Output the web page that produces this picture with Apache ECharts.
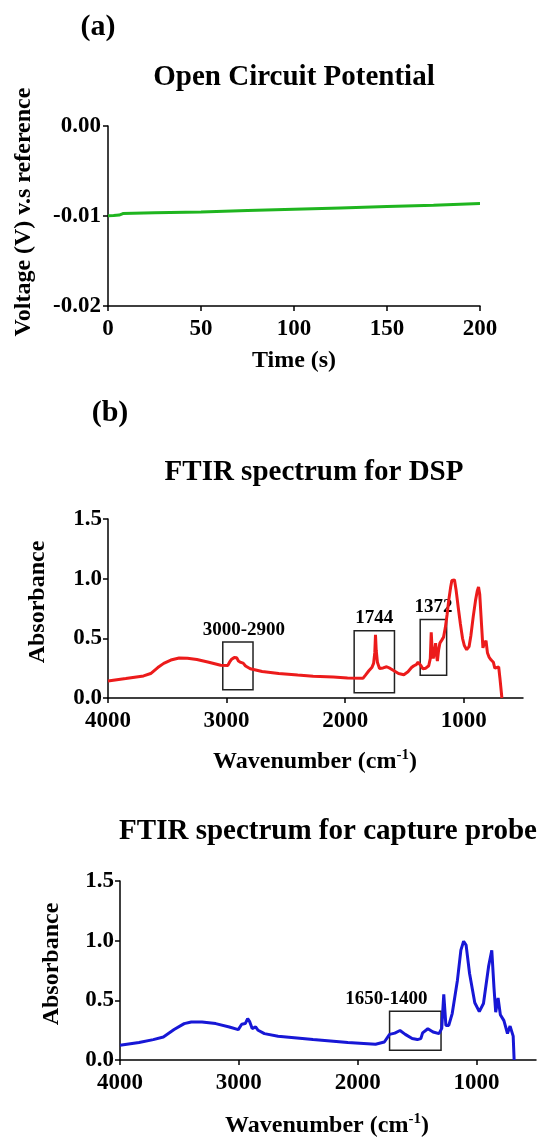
<!DOCTYPE html>
<html>
<head>
<meta charset="utf-8">
<script src="https://cdn.jsdelivr.net/npm/echarts@6/dist/echarts.min.js"></script>
<style>
html, body { margin: 0; padding: 0; background: #fff; }
#main { width: 545px; height: 1139px; }
</style>
</head>
<body>
<div id="main"></div>
<script>
// (a) open circuit potential
var ocpTime = [0, 3, 6, 8, 25, 50, 75, 100, 125, 150, 175, 200];
var ocpVoltage = [-0.00997, -0.00995, -0.0099, -0.00973, -0.00965, -0.00955, -0.0094, -0.00925, -0.0091, -0.00895, -0.0088, -0.00862];
var ocpTicks = [0, 50, 100, 150, 200];

// (b) FTIR spectrum for DSP
var dspWavenumber = [
    4000, 3850, 3700, 3640, 3580, 3530, 3470, 3400, 3330, 3250,
    3150, 3050, 2990, 2975, 2960, 2945, 2935, 2925, 2915, 2900,
    2880, 2860, 2840, 2800, 2700, 2560, 2400, 2270, 2100, 1980,
    1850, 1830, 1800, 1775, 1760, 1750, 1744, 1738, 1728, 1710,
    1680, 1650, 1620, 1595, 1550, 1505, 1470, 1440, 1420, 1400,
    1385, 1372, 1360, 1345, 1320, 1295, 1282, 1274, 1266, 1257,
    1245, 1237, 1228, 1222, 1212, 1201, 1185, 1170, 1155, 1140,
    1126, 1110, 1100, 1090, 1078, 1065, 1045, 1028, 1010, 995,
    975, 955, 940, 920, 900, 885, 875, 865, 850, 838,
    825, 812, 800, 785, 770, 750, 738, 725, 705, 695, 678
];
var dspAbsorbance = [
    0.143, 0.163, 0.185, 0.205, 0.255, 0.29, 0.318, 0.335, 0.333, 0.322,
    0.300, 0.275, 0.272, 0.300, 0.322, 0.330, 0.340, 0.352, 0.338, 0.310,
    0.298, 0.292, 0.268, 0.245, 0.222, 0.205, 0.192, 0.182, 0.175, 0.168,
    0.165, 0.190, 0.228, 0.255, 0.290, 0.380, 0.530, 0.400, 0.300, 0.248,
    0.252, 0.262, 0.248, 0.232, 0.205, 0.195, 0.220, 0.255, 0.270, 0.280,
    0.300, 0.310, 0.270, 0.245, 0.250, 0.270, 0.330, 0.550, 0.400, 0.330,
    0.400, 0.460, 0.350, 0.310, 0.400, 0.460, 0.485, 0.510, 0.590, 0.700,
    0.820, 0.930, 0.985, 1.000, 0.990, 0.910, 0.750, 0.620, 0.500, 0.440,
    0.405, 0.430, 0.520, 0.680, 0.820, 0.900, 0.930, 0.870, 0.620, 0.420,
    0.460, 0.480, 0.380, 0.340, 0.320, 0.300, 0.250, 0.260, 0.260, 0.170, 0.000
];

// FTIR spectrum for capture probe
var probeWavenumber = [
    4000, 3840, 3720, 3635, 3545, 3460, 3400, 3310, 3195, 3080,
    3005, 2990, 2976, 2946, 2926, 2908, 2888, 2859, 2838, 2785,
    2670, 2376, 2083, 1850, 1776, 1732, 1688, 1644, 1600, 1542,
    1498, 1469, 1454, 1410, 1366, 1316, 1293, 1276, 1258, 1234,
    1205, 1161, 1132, 1109, 1088, 1059, 1015, 977, 942, 898,
    872, 854, 839, 819, 800, 770, 740, 718, 702, 692, 684
];
var probeAbsorbance = [
    0.123, 0.146, 0.171, 0.193, 0.255, 0.305, 0.319, 0.319, 0.305, 0.277,
    0.255, 0.262, 0.300, 0.305, 0.347, 0.319, 0.263, 0.277, 0.249, 0.221,
    0.199, 0.171, 0.146, 0.132, 0.151, 0.215, 0.225, 0.247, 0.215, 0.180,
    0.171, 0.179, 0.227, 0.262, 0.235, 0.221, 0.265, 0.550, 0.290, 0.290,
    0.389, 0.669, 0.921, 0.995, 0.963, 0.725, 0.480, 0.405, 0.473, 0.790,
    0.920, 0.613, 0.400, 0.520, 0.380, 0.330, 0.222, 0.284, 0.271, 0.200, 0.000
];

var ftirTicks = [1000, 2000, 3000, 4000];

// boxes [label, x1, x2, y1, y2, label offset]
var dspBoxes = [
    ['3000-2900', 3032, 2777, 0.07, 0.47, 6],
    ['1744', 1924, 1584, 0.045, 0.563, 0],
    ['1372', 1367, 1144, 0.19, 0.658, 0]
];
var probeBoxes = [
    ['1650-1400', 1732, 1299, 0.081, 0.409, -29]
];

function zip(xs, ys) {
    var out = [];
    for (var i = 0; i < xs.length; i++) out.push([xs[i], ys[i]]);
    return out;
}

function boxData(boxes) {
    return boxes.map(function (b) {
        return [
            { name: b[0], coord: [b[1], b[4]], label: { offset: [b[5], 0] } },
            { coord: [b[2], b[3]] }
        ];
    });
}

var FONT = '"Liberation Serif", "Times New Roman", serif';

function axisCommon() {
    return {
        axisLine: { show: true, onZero: false, lineStyle: { color: '#000', width: 1.5 } },
        axisTick: { show: true, length: 5, lineStyle: { color: '#000', width: 1.5 } },
        splitLine: { show: false },
        axisLabel: { fontFamily: FONT, fontWeight: 'bold', fontSize: 23, color: '#000' }
    };
}

function txt(text, x, y, size, rotate) {
    return {
        type: 'text', x: x, y: y, rotation: rotate ? Math.PI / 2 : 0,
        style: {
            text: text, fontFamily: FONT, fontWeight: 'bold', fontSize: size, fill: '#000',
            align: 'center', verticalAlign: 'middle', textAlign: 'center', textVerticalAlign: 'middle'
        }
    };
}

function waveLabel(x, y) {
    return {
        type: 'text', x: x, y: y,
        style: {
            text: '{m|Wavenumber (cm}{s|-1}{m|)}',
            align: 'center', verticalAlign: 'middle', textAlign: 'center', textVerticalAlign: 'middle',
            rich: {
                m: { fontFamily: FONT, fontWeight: 'bold', fontSize: 24, fill: '#000', color: '#000', lineHeight: 28 },
                s: { fontFamily: FONT, fontWeight: 'bold', fontSize: 15, fill: '#000', color: '#000', verticalAlign: 'top', lineHeight: 16 }
            }
        }
    };
}

var myChart = echarts.init(document.getElementById('main'));

var xa = axisCommon();
xa.gridIndex = 0; xa.type = 'value'; xa.min = 0; xa.max = 200; xa.interval = 50;
xa.axisLabel.margin = 12;
xa.axisLabel.customValues = ocpTicks;
xa.axisTick.customValues = ocpTicks;

var ya = axisCommon();
ya.gridIndex = 0; ya.type = 'value'; ya.min = -0.02; ya.max = 0; ya.interval = 0.01;
ya.axisLabel.margin = 7;
ya.axisLabel.formatter = function (v) { return Math.abs(v) < 1e-9 ? '0.00' : v.toFixed(2); };

function ftirX(idx) {
    var a = axisCommon();
    a.gridIndex = idx; a.type = 'value'; a.min = 500; a.max = 4000; a.inverse = true;
    a.axisLabel.margin = 12;
    a.axisLabel.customValues = ftirTicks;
    a.axisLabel.formatter = function (v) { return String(v); };
    a.axisTick.customValues = ftirTicks;
    return a;
}
function ftirY(idx) {
    var a = axisCommon();
    a.gridIndex = idx; a.type = 'value'; a.min = 0; a.max = 1.5; a.interval = 0.5;
    a.axisLabel.margin = 6;
    a.axisLabel.formatter = function (v) { return v.toFixed(1); };
    return a;
}

var boxStyle = {
    silent: true,
    itemStyle: { color: 'rgba(0,0,0,0)', borderColor: '#222', borderWidth: 1.5 },
    label: { show: true, position: 'top', distance: 2, fontFamily: FONT, fontWeight: 'bold', fontSize: 19, color: '#000' }
};

var option = {
    animation: false,
    backgroundColor: '#fff',
    grid: [
        { left: 108, top: 126, width: 372, height: 180 },
        { left: 108, top: 519, width: 415, height: 179 },
        { left: 120, top: 881, width: 416, height: 179 }
    ],
    xAxis: [xa, ftirX(1), ftirX(2)],
    yAxis: [ya, ftirY(1), ftirY(2)],
    series: [
        {
            type: 'line', xAxisIndex: 0, yAxisIndex: 0, showSymbol: false,
            lineStyle: { color: '#1fb51f', width: 3 },
            data: zip(ocpTime, ocpVoltage)
        },
        {
            type: 'line', xAxisIndex: 1, yAxisIndex: 1, showSymbol: false,
            lineStyle: { color: '#ec1b1b', width: 3 },
            data: zip(dspWavenumber, dspAbsorbance),
            markArea: Object.assign({ data: boxData(dspBoxes) }, boxStyle)
        },
        {
            type: 'line', xAxisIndex: 2, yAxisIndex: 2, showSymbol: false,
            lineStyle: { color: '#1717d6', width: 3 },
            data: zip(probeWavenumber, probeAbsorbance),
            markArea: Object.assign({ data: boxData(probeBoxes) }, boxStyle)
        }
    ],
    graphic: [
        txt('(a)', 98, 27, 30),
        txt('Open Circuit Potential', 294, 78, 29),
        txt('Voltage (V) v.s reference', 24, 212, 24, true),
        txt('Time (s)', 294, 361, 24),
        txt('(b)', 110, 413, 30),
        txt('FTIR spectrum for DSP', 314, 473, 29),
        txt('Absorbance', 38, 602, 24, true),
        waveLabel(315, 762),
        txt('FTIR spectrum for capture probe', 328, 832, 29),
        txt('Absorbance', 52, 964, 24, true),
        waveLabel(327, 1126)
    ]
};

myChart.setOption(option);
</script>
</body>
</html>
